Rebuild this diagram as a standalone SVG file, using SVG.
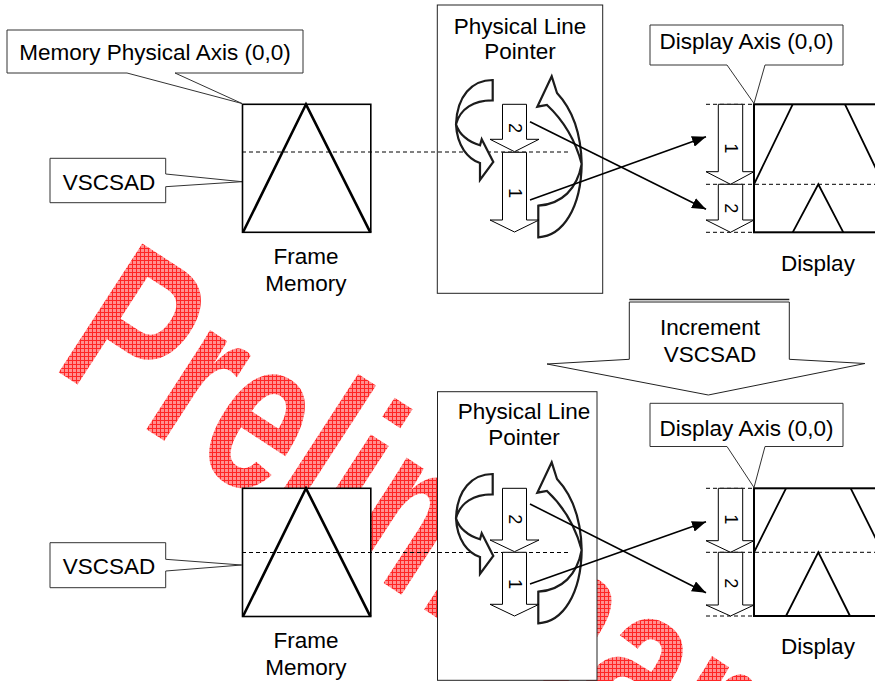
<svg xmlns="http://www.w3.org/2000/svg" width="875" height="681" viewBox="0 0 875 681">
<defs>
<style>
.t{font-family:"Liberation Sans",Arial,sans-serif;font-size:22.5px;fill:#000}
.m{text-anchor:middle}
.dg{font-family:"Liberation Sans",Arial,sans-serif;font-size:18px;fill:#000;text-anchor:middle;dominant-baseline:central}
.co{fill:#fff;stroke:#333;stroke-width:1}
.bx{fill:#fff;stroke:#222;stroke-width:1}
.dash{stroke:#000;stroke-width:1;stroke-dasharray:4 3;fill:none}
.sa{fill:#fff;stroke:#000;stroke-width:1}
.cv{fill:#fff;stroke:#1a1a1a;stroke-width:2.2;filter:url(#soft)}
.fm{fill:#fff;stroke:#000;stroke-width:1.6}
.tri{fill:none;stroke:#000;stroke-width:2.6;stroke-linejoin:miter}
.dl{fill:none;stroke:#000;stroke-width:1.8}
.conn{stroke:#000;stroke-width:1.6;fill:none;marker-end:url(#ah)}
</style>
<pattern id="grid" patternUnits="userSpaceOnUse" width="4" height="4">
<rect width="4" height="4" fill="#ff9090"/>
<rect width="4" height="1" fill="#ff2525"/>
<rect width="1" height="4" fill="#ff2525"/>
</pattern>
<clipPath id="wmclip">
<text transform="translate(50,366.5) rotate(33) scale(0.70,1)" font-family="Liberation Sans, Arial, sans-serif" font-weight="bold" font-size="223">Preliminary</text>
</clipPath>
<marker id="ah" markerUnits="userSpaceOnUse" markerWidth="15" markerHeight="11" refX="14" refY="5.5" orient="auto">
<path d="M0,0 L14,5.5 L0,11 Z" fill="#000"/>
</marker>
<filter id="soft" x="-20%" y="-20%" width="140%" height="140%">
<feGaussianBlur stdDeviation="0.7"/>
</filter>
<path id="curveL" d="M492.7,474 C472,474 457,490 456,518.3 C457,540 468,553 480,557 L480,574 L493.3,556 L481.7,533.3 L480,539.3 C468,536 459,528 456,518.3 C460,503 474,494 492.7,494.3 Z"/>
<path id="curveR" d="M538.3,591.7 L538.3,623.3 C563,622 581,594 581.7,550 C581,520 572,495 557,479 L551.7,462.3 L537.3,492.7 L547,491 C562,505 575,525 581.7,550 C577,575 562,590 538.3,591.7 Z"/>
</defs>

<g id="watermark">
<rect x="0" y="0" width="875" height="681" fill="url(#grid)" clip-path="url(#wmclip)"/>
</g>

<!-- TOP PANEL -->
<g id="mem-axis-callout">
<path class="co" d="M7,30 H303 V73 H175 L242,103.5 L127,73 H7 Z"/>
<text class="t m" x="155" y="60">Memory Physical Axis (0,0)</text>
</g>
<g id="vscsad-callout-top">
<path class="co" d="M50,158.3 H165.7 V174 L242,181.7 L165.7,186.7 V202.7 H50 Z"/>
<text class="t m" x="109" y="189.5">VSCSAD</text>
</g>
<g id="frame-memory-top">
<rect class="fm" x="242.5" y="104.3" width="128.3" height="128"/>
<path class="tri" d="M243,232.3 L306,104.3 L370.3,232.3"/>
<text class="t m" x="306" y="264">Frame</text>
<text class="t m" x="306" y="291">Memory</text>
</g>
<g id="plp-top">
<rect class="bx" x="437.3" y="5" width="165.4" height="288.3"/>
<text class="t m" x="520" y="33.5">Physical Line</text>
<text class="t m" x="520" y="59">Pointer</text>
</g>
<g id="display-axis-callout-top">
<path class="co" d="M650,25 H843 V65 H765 L754,103.5 L727,65 H650 Z"/>
<text class="t m" x="746.5" y="49">Display Axis (0,0)</text>
</g>
<g id="display-top">
<rect x="754" y="104.3" width="160" height="128" fill="#fff" stroke="#000" stroke-width="2"/>
<path class="dl" d="M754,184.3 L792.7,104.3 M845,104.3 L883.5,184.3 M792.7,232.3 L818.3,184.3 L843.3,232.3"/>
<text class="t m" x="818" y="271">Display</text>
</g>
<g id="guides-top">
<path class="dash" d="M242,152 H570 M706,104.3 H754 M706,184.3 H875 M706,232.3 H754"/>
</g>
<g id="plp-arrows-top">
<use href="#curveL" class="cv" transform="translate(0,-394)"/>
<use href="#curveR" class="cv" transform="translate(0,-386)"/>
<path class="sa" d="M502.5,104.3 H526.5 V139.3 H539 L514.5,151.7 L490,139.3 H502.5 Z"/>
<path class="sa" d="M502.5,152.3 H526.5 V220 H539 L514.5,232 L490,220 H502.5 Z"/>
<text class="dg" transform="rotate(90 515 128)" x="515" y="128">2</text>
<text class="dg" transform="rotate(90 515 193)" x="515" y="193">1</text>
</g>
<g id="display-arrows-top">
<path class="sa" d="M718.3,104.3 H742.7 V171.7 H754 L730.5,184.3 L706,171.7 H718.3 Z"/>
<path class="sa" d="M718.3,184.3 H742.7 V220 H754 L730.5,232.3 L706,220 H718.3 Z"/>
<text class="dg" transform="rotate(90 730.5 148.3)" x="730.5" y="148.3">1</text>
<text class="dg" transform="rotate(90 730.5 208.3)" x="730.5" y="208.3">2</text>
</g>

<!-- INCREMENT ARROW -->
<g id="increment-arrow">
<path d="M629.3,299.5 H789.3" stroke="#222" stroke-width="1.3" fill="none"/>
<path d="M629.3,302 V359.3 L547,364 L708.3,395 L865,363.5 L789.3,359.3 V302 Z" fill="#fff" stroke="#222" stroke-width="1"/>
<text class="t m" x="710" y="335">Increment</text>
<text class="t m" x="710" y="361.5">VSCSAD</text>
</g>

<!-- BOTTOM PANEL -->
<g id="vscsad-callout-bottom">
<path class="co" d="M50,542.7 H165.7 V559.3 L241.7,565 L165.7,571 V587.7 H50 Z"/>
<text class="t m" x="109" y="573.5">VSCSAD</text>
</g>
<g id="frame-memory-bottom">
<rect class="fm" x="242.5" y="488.3" width="128.3" height="128.2"/>
<path class="tri" d="M243,616.3 L306,488.3 L370.3,616.3"/>
<text class="t m" x="306" y="648">Frame</text>
<text class="t m" x="306" y="675">Memory</text>
</g>
<g id="plp-bottom">
<rect class="bx" x="437.5" y="391.7" width="159.5" height="288.6"/>
<text class="t m" x="524" y="418.5">Physical Line</text>
<text class="t m" x="524" y="444.5">Pointer</text>
</g>
<g id="display-axis-callout-bottom">
<path class="co" d="M650,403.3 H843 V446.5 H765 L754,487.5 L727,446.5 H650 Z"/>
<text class="t m" x="746.5" y="436">Display Axis (0,0)</text>
</g>
<g id="display-bottom">
<rect x="754" y="488.3" width="160" height="127.7" fill="#fff" stroke="#000" stroke-width="2"/>
<path class="dl" d="M754,552.3 L786,488.3 M850.7,488.3 L882.7,552.3 M786,616 L818.3,552.3 L850,616"/>
<text class="t m" x="818" y="654">Display</text>
</g>
<g id="guides-bottom">
<path class="dash" d="M242,552.5 H569 M706,488.3 H754 M706,552.3 H875 M706,616 H754"/>
</g>
<g id="plp-arrows-bottom">
<use href="#curveL" class="cv"/>
<use href="#curveR" class="cv"/>
<path class="sa" d="M502.5,488.3 H526.5 V540 H539 L514.5,551.7 L490,540 H502.5 Z"/>
<path class="sa" d="M502.5,552.3 H526.5 V604.3 H539 L514.5,616 L490,604.3 H502.5 Z"/>
<text class="dg" transform="rotate(90 515 519.3)" x="515" y="519.3">2</text>
<text class="dg" transform="rotate(90 515 584)" x="515" y="584">1</text>
</g>
<g id="display-arrows-bottom">
<path class="sa" d="M718.3,488.3 H742.7 V540.7 H754 L730.5,552.3 L706,540.7 H718.3 Z"/>
<path class="sa" d="M718.3,552.3 H742.7 V605 H754 L730.5,616 L706,605 H718.3 Z"/>
<text class="dg" transform="rotate(90 730.5 519.3)" x="730.5" y="519.3">1</text>
<text class="dg" transform="rotate(90 730.5 583.3)" x="730.5" y="583.3">2</text>
</g>

<g id="connectors">
<path class="conn" d="M530,121.7 L706,209.3"/>
<path class="conn" d="M530,200 L706,136.7"/>
<path class="conn" d="M530,504 L706,592.7"/>
<path class="conn" d="M530,584 L706,521.7"/>
</g>
</svg>
